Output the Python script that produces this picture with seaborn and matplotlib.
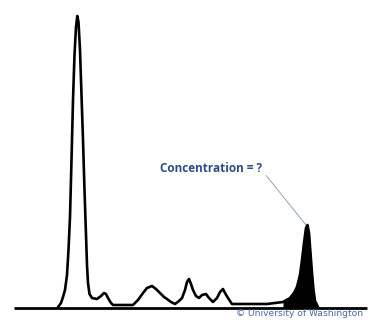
import matplotlib
matplotlib.use("Agg")
import matplotlib.pyplot as plt
import seaborn as sns
import numpy as np
import pandas as pd

# Retention time (arbitrary units) and detector signal (arbitrary units)
time = [58, 61, 63, 65, 67, 68.5, 70, 71.5, 73, 74.5, 76, 77.3, 78.5, 80, 81.5,
        83, 84.5, 86, 87, 88, 89.5, 92, 97, 101, 104, 106, 108, 111, 113,
        133, 138, 143, 147, 152, 156, 160, 164, 167, 171, 175, 179, 182, 185,
        187, 189, 191, 193, 196, 199, 202, 206, 209, 213, 217, 220, 223, 225,
        228, 232, 267, 283, 290, 294, 297, 300, 302, 304, 306, 307.5, 309,
        310.5, 312, 313.5, 315, 318]
signal = [1, 5, 11, 18, 33, 58, 91, 148, 208, 253, 281, 292, 286, 258, 213,
          168, 118, 73, 43, 25, 14, 10, 9, 12, 15, 14, 10, 5, 3,
          3, 8, 15, 20, 22, 19, 15, 11, 9, 6, 4, 7, 10, 18,
          26, 29, 24, 18, 12, 10, 13, 14, 10, 6, 10, 16, 19, 15,
          10, 4, 4, 6, 10, 15, 21, 33, 48, 65, 80, 83, 75,
          55, 35, 18, 7, 1]

peak_start = 283

df = pd.DataFrame({"time": time, "signal": signal})

fig = plt.figure(figsize=(3.75, 3.25), dpi=100)
ax = fig.add_axes([0, 0, 1, 1])
sns.set_style("white")

ax.hlines(0, 14, 367, color="black", lw=2.0, zorder=3)
sns.lineplot(data=df, x="time", y="signal", ax=ax, color="black", lw=1.9,
             sort=False, zorder=4)
sel = df[df["time"] >= peak_start]
ax.fill_between(sel["time"], 0, sel["signal"], color="black", lw=0, zorder=4)

ax.annotate("Concentration = ?", xy=(306, 83), xytext=(262, 139),
            ha="right", va="center", fontsize=8.5, fontweight="bold",
            family=["Open Sans", "DejaVu Sans"], color="#2e4c86",
            arrowprops=dict(arrowstyle="-", color="#8ea3bc", lw=0.7,
                            shrinkA=1, shrinkB=0, relpos=(1.0, 0.4)))
ax.text(363, -6, "© University of Washington", ha="right", va="center",
        fontsize=6.6, family=["DejaVu Sans"], color="#4767a6")

ax.set_xlim(0, 375)
ax.set_ylim(-17, 308)
ax.axis("off")
fig.savefig("out.png", dpi=100, facecolor="white")
